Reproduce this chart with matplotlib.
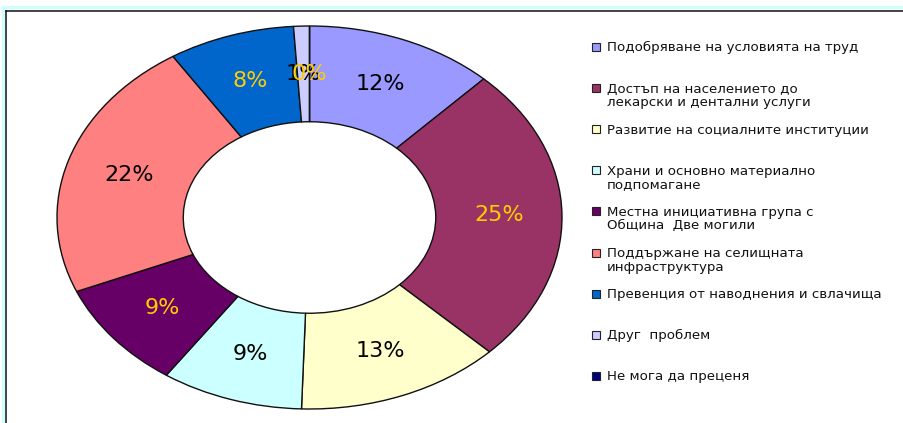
import matplotlib
matplotlib.use("Agg")
import matplotlib.pyplot as plt
from matplotlib.patches import Rectangle
from matplotlib.lines import Line2D

categories = [
    "Подобряване на условията на труд",
    "Достъп на населението до\nлекарски и дентални услуги",
    "Развитие на социалните институции",
    "Храни и основно материално\nподпомагане",
    "Местна инициативна група с\nОбщина  Две могили",
    "Поддържане на селищната\nинфраструктура",
    "Превенция от наводнения и свлачища",
    "Друг  проблем",
    "Не мога да преценя",
]
values = [12, 25, 13, 9, 9, 22, 8, 1, 0]
colors = ["#9999FF", "#993366", "#FFFFCC", "#CCFFFF", "#660066",
          "#FF8080", "#0066CC", "#CCCCFF", "#000080"]
label_colors = ["black", "#FFCC00", "black", "black", "#FFCC00",
                "black", "#FFCC00", "black", "#FFCC00"]

W, H = 904, 423
fig = plt.figure(figsize=(W / 100, H / 100), dpi=100)
fig.patch.set_facecolor("white")

# pie area (stretched ellipse)
ax = fig.add_axes([57 / W, (H - 409) / H, 505 / W, 383 / H])
wedges, texts, autotexts = ax.pie(
    values, colors=colors, startangle=90, counterclock=False, radius=1,
    autopct=lambda p: f"{p:.0f}%", pctdistance=0.75,
    wedgeprops=dict(width=0.5, edgecolor="#111111", linewidth=1.0),
    textprops=dict(fontsize=16, family="DejaVu Sans"),
)
for t, c in zip(autotexts, label_colors):
    t.set_color(c)
ax.set_aspect("auto")
ax.set_xlim(-1, 1)
ax.set_ylim(-1, 1)
ax.axis("off")

# legend (top-aligned entries, evenly spaced)
y0, step, line_h = 47, 41.1, 13.5
for i, (lab, col) in enumerate(zip(categories, colors)):
    yc = y0 + i * step
    nlines = lab.count("\n") + 1
    fig.add_artist(Rectangle((592 / W, 1 - (yc + 4) / H), 8 / W, 8 / H,
                             facecolor=col, edgecolor="#222222", linewidth=0.8,
                             transform=fig.transFigure))
    base = yc + 4.5 + (nlines - 1) * line_h
    fig.text(607 / W, 1 - base / H, lab, fontsize=9.6,
             family="DejaVu Sans", color="#111111", va="baseline", ha="left",
             linespacing=1.05)

# frame lines
fig.add_artist(Line2D([2 / W, 1], [1 - 7.5 / H, 1 - 7.5 / H], color="#CCFFFF",
                      linewidth=2.2, transform=fig.transFigure))
fig.add_artist(Line2D([3.5 / W, 3.5 / W], [0, 1 - 7.5 / H], color="#CCFFFF",
                      linewidth=2.2, transform=fig.transFigure))
fig.add_artist(Line2D([6.5 / W, 1], [1 - 11.5 / H, 1 - 11.5 / H], color="#111111",
                      linewidth=1.1, transform=fig.transFigure))
fig.add_artist(Line2D([6.5 / W, 6.5 / W], [0, 1 - 11.5 / H], color="#111111",
                      linewidth=1.1, transform=fig.transFigure))

fig.savefig("out.png", dpi=100)
